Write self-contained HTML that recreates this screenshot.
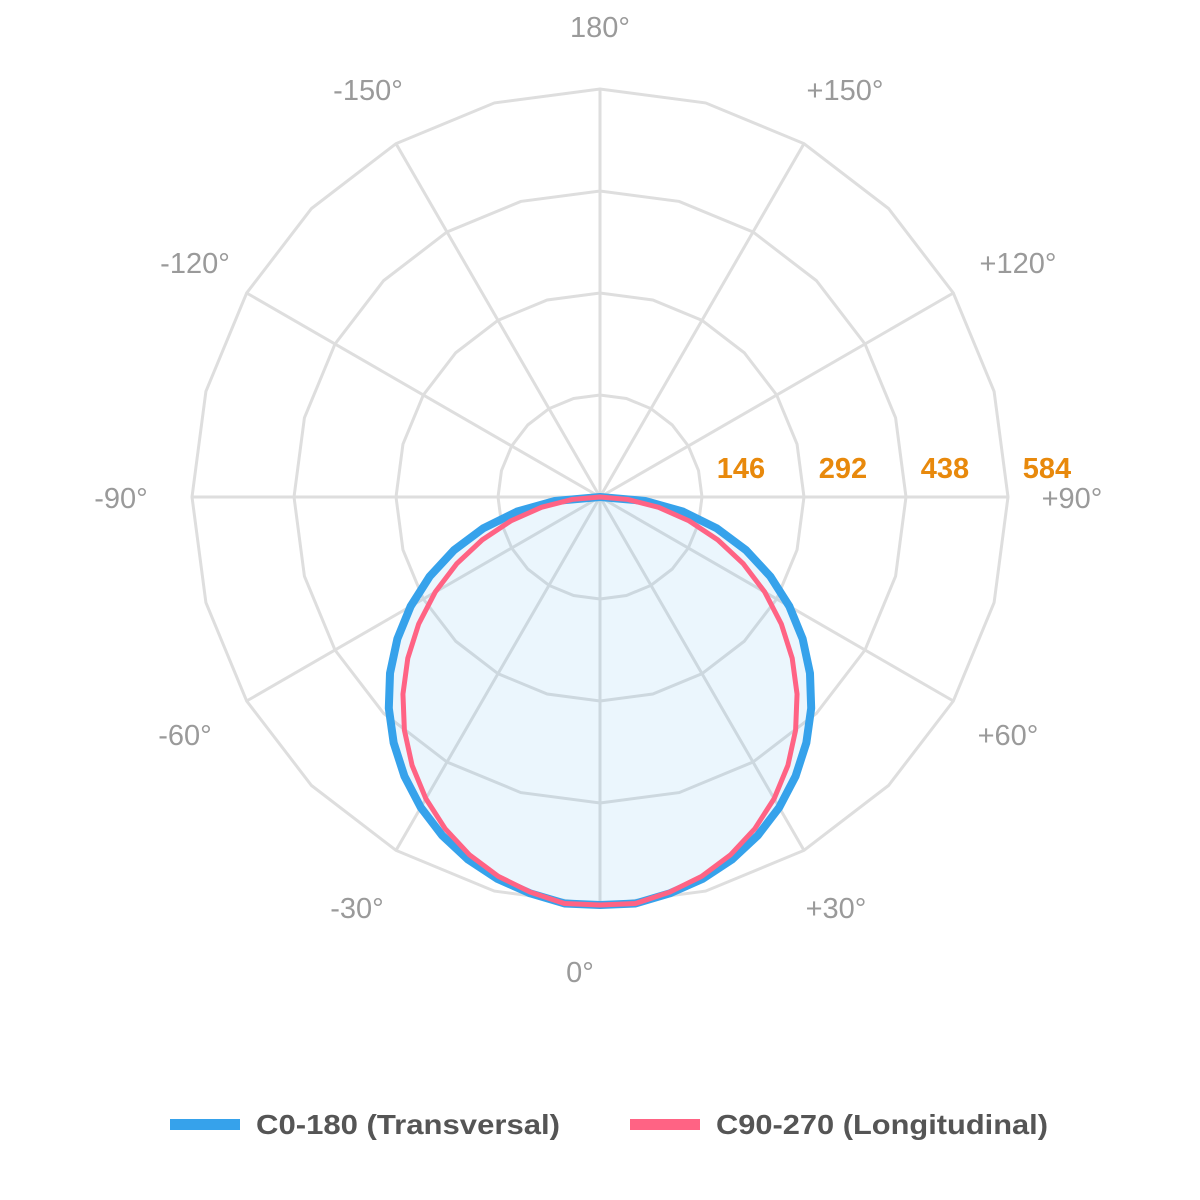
<!DOCTYPE html>
<html><head><meta charset="utf-8"><style>
body{margin:0;background:#fff;}
svg{display:block;font-family:"Liberation Sans",sans-serif;}
</style></head><body>
<svg id="s" width="1200" height="1200" viewBox="0 0 1200 1200" xmlns="http://www.w3.org/2000/svg">
<g id="grid" stroke="#dedede" stroke-width="3" fill="none"></g>
<g id="series"></g>
<g fill="#9a9a9a" font-size="29" text-anchor="middle">
<text x="600" y="37">180°</text>
<text x="845" y="100">+150°</text>
<text x="1018" y="273">+120°</text>
<text x="1072" y="508">+90°</text>
<text x="1008" y="745">+60°</text>
<text x="836" y="918">+30°</text>
<text x="580" y="982">0°</text>
<text x="357" y="918">-30°</text>
<text x="185" y="745">-60°</text>
<text x="121" y="508">-90°</text>
<text x="195" y="273">-120°</text>
<text x="368" y="100">-150°</text>
</g>
<g fill="#e8890c" font-size="29" font-weight="bold" text-anchor="middle">
<text x="741" y="478">146</text>
<text x="843" y="478">292</text>
<text x="945" y="478">438</text>
<text x="1047" y="478">584</text>
</g>
<rect x="170" y="1119" width="70" height="11" fill="#36a2eb"/>
<text x="256" y="1134" font-size="28" font-weight="bold" fill="#555" textLength="304" lengthAdjust="spacingAndGlyphs">C0-180 (Transversal)</text>
<rect x="630" y="1119" width="70" height="11" fill="#ff6384"/>
<text x="716" y="1134" font-size="28" font-weight="bold" fill="#555" textLength="332" lengthAdjust="spacingAndGlyphs">C90-270 (Longitudinal)</text>
</svg>
<script>
var cx=600,cy=497,NS="http://www.w3.org/2000/svg";
var g=document.getElementById('grid');
function P(r,d){var a=d*Math.PI/180;return [cx+r*Math.sin(a),cy+r*Math.cos(a)];}
[102,204,306,408].forEach(function(r){var pts=[];for(var d=0;d<360;d+=15){pts.push(P(r,d).join(','));}
var p=document.createElementNS(NS,'polygon');p.setAttribute('points',pts.join(' '));g.appendChild(p);});
for(var d=0;d<360;d+=30){var q=P(408,d);var l=document.createElementNS(NS,'line');l.setAttribute('x1',cx);l.setAttribute('y1',cy);l.setAttribute('x2',q[0]);l.setAttribute('y2',q[1]);g.appendChild(l);}
var sg=document.getElementById('series');
function curve(p,col,w,fill){var pts=[];for(var d=-90;d<=90;d+=5){var c=Math.cos(d*Math.PI/180);var r=408*Math.pow(Math.max(c,0),p);if(Math.abs(d)<=5)r=408;pts.push(P(r,d).join(','));}
var e=document.createElementNS(NS,'polygon');e.setAttribute('points',pts.join(' '));e.setAttribute('fill',fill);e.setAttribute('stroke',col);e.setAttribute('stroke-width',w);e.setAttribute('stroke-linejoin','round');sg.appendChild(e);}
curve(0.9,'#36a2eb',8,'rgba(54,162,235,0.1)');
curve(1.1,'#ff6384',5,'none');
</script>
</body></html>
